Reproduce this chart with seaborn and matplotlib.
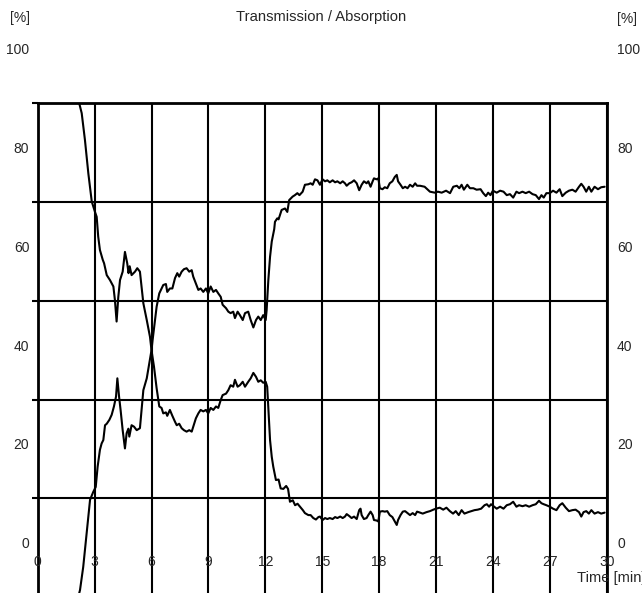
import matplotlib
matplotlib.use("Agg")
import matplotlib.pyplot as plt
import seaborn as sns
import pandas as pd

# ---- data (minutes, percent) ----
t_a = [0.0, 1.0, 2.0, 2.19, 2.32, 2.49, 2.67, 2.85, 3.02, 3.11, 3.19, 3.28, 3.43, 3.50, 3.64, 3.81, 3.99,
       4.07, 4.16, 4.25, 4.34, 4.48, 4.60, 4.72, 4.79, 4.85, 4.95, 5.13, 5.25, 5.39, 5.57, 5.75, 5.92,
       6.0, 6.13, 6.27, 6.41, 6.53, 6.62, 6.76, 6.83, 6.97, 7.10, 7.24, 7.33, 7.46, 7.59, 7.71, 7.85,
       7.99, 8.12, 8.20, 8.34, 8.47, 8.59, 8.73, 8.87, 8.99, 9.12, 9.26, 9.40, 9.52, 9.65, 9.75, 9.93,
       10.05, 10.17, 10.31, 10.40, 10.54, 10.66, 10.81, 10.93, 11.10, 11.23, 11.37, 11.51, 11.63, 11.76,
       11.89, 12.02, 12.10, 12.21, 12.25, 12.34, 12.42, 12.56, 12.70, 12.81, 12.95, 13.10, 13.20, 13.30,
       13.45, 13.57, 13.70, 13.83, 13.98, 14.09, 14.27, 14.39, 14.53, 14.67, 14.80, 14.88, 15.02, 15.15,
       15.27, 15.40, 15.55, 15.68, 15.80, 15.95, 16.08, 16.20, 16.29, 16.43, 16.55, 16.68, 16.82, 16.95,
       17.02, 17.08, 17.20, 17.34, 17.43, 17.55, 17.66, 17.73, 17.87, 17.96, 18.04, 18.18, 18.30, 18.43,
       18.56, 18.70, 18.83, 18.93, 19.00, 19.13, 19.25, 19.37, 19.50, 19.63, 19.77, 19.90, 20.00, 20.16,
       20.30, 20.50, 20.68, 20.86, 21.00, 21.20, 21.38, 21.55, 21.73, 21.90, 22.04, 22.20, 22.35, 22.50,
       22.70, 22.86, 23.03, 23.20, 23.38, 23.56, 23.68, 23.80, 23.90, 24.03, 24.20, 24.38, 24.56, 24.73,
       24.90, 25.07, 25.24, 25.38, 25.56, 25.73, 25.91, 26.09, 26.26, 26.43, 26.56, 26.68, 26.82, 27.00,
       27.17, 27.35, 27.52, 27.66, 27.84, 28.01, 28.19, 28.36, 28.54, 28.66, 28.78, 28.92, 29.06, 29.19,
       29.36, 29.54, 29.71, 29.89]
v_a = [96, 96, 94, 90.0, 88.0, 82.6, 75.8, 70.1, 68.0, 67.0, 63.0, 60.3, 58.3, 57.6, 55.2, 54.2, 52.9,
       50.2, 45.8, 50.8, 54.2, 55.9, 59.9, 57.6, 55.6, 57.0, 55.2, 55.9, 56.6, 55.9, 49.5, 46.1, 42.7,
       40.0, 36.7, 32.3, 28.6, 28.3, 27.2, 27.4, 26.7, 27.9, 26.7, 25.5, 24.8, 25.1, 24.2, 23.8, 23.5,
       23.8, 23.5, 24.5, 26.2, 27.2, 27.9, 27.6, 27.9, 27.2, 28.3, 27.9, 28.6, 28.3, 29.9, 30.9, 31.2,
       31.9, 32.9, 32.6, 34.0, 32.6, 32.9, 33.6, 32.6, 33.6, 34.3, 35.4, 34.6, 33.6, 33.9,
       33.4, 33.6, 32.6, 24.5, 21.8, 18.4, 16.4, 13.7, 13.8, 12.0, 11.9, 12.5, 11.9, 9.3,
       9.6, 8.6, 8.9, 8.3, 7.6, 7.0, 6.6, 6.6, 6.0, 5.7, 6.2, 6.3, 5.6, 6.0,
       5.8, 6.0, 5.8, 6.2, 6.0, 6.3, 6.0, 6.3, 6.8, 6.4, 6.0, 6.3, 5.8, 7.6,
       7.9, 6.6, 5.8, 6.0, 6.6, 7.3, 6.6, 5.6, 5.5, 5.3, 7.3, 7.4, 7.3, 7.4,
       6.6, 6.2, 5.3, 4.6, 5.6, 6.6, 7.3, 7.4, 7.0, 6.6, 7.0, 6.6, 7.3, 7.1,
       6.9, 7.2, 7.4, 7.7, 7.9, 8.1, 7.7, 8.1, 7.4, 6.9, 7.4, 6.6, 7.6, 6.9,
       7.2, 7.4, 7.6, 7.7, 7.9, 8.6, 8.8, 8.3, 8.8, 8.4, 7.9, 8.3, 7.9, 8.6,
       8.8, 9.3, 8.3, 8.6, 8.4, 8.6, 8.3, 8.6, 8.8, 9.5, 9.0, 8.8, 8.6, 8.3,
       7.9, 7.6, 8.6, 9.0, 8.1, 7.4, 7.6, 7.7, 7.2, 6.3, 7.2, 7.4, 6.9, 7.6,
       6.9, 7.2, 6.9, 7.1]

t_b = [0.0, 2.0, 2.23, 2.40, 2.58, 2.76, 2.93, 3.06, 3.16, 3.28, 3.37, 3.46, 3.55, 3.64, 3.78, 3.90,
       4.02, 4.13, 4.20, 4.29, 4.37, 4.48, 4.60, 4.69, 4.78, 4.83, 4.95, 5.08, 5.22, 5.39, 5.57, 5.75,
       5.88, 6.0, 6.06, 6.27, 6.41, 6.53, 6.62, 6.76, 6.83, 6.97, 7.10, 7.24, 7.36, 7.46, 7.59, 7.71,
       7.85, 7.99, 8.12, 8.20, 8.34, 8.47, 8.59, 8.73, 8.87, 8.99, 9.12, 9.26, 9.40, 9.52, 9.65, 9.75,
       9.93, 10.05, 10.17, 10.31, 10.40, 10.54, 10.66, 10.81, 10.93, 11.10, 11.23, 11.37, 11.51, 11.63,
       11.76, 11.89, 12.02, 12.07, 12.16, 12.25, 12.34, 12.47, 12.51, 12.63, 12.70, 12.86, 13.04, 13.16,
       13.26, 13.44, 13.56, 13.69, 13.80, 13.97, 14.09, 14.27, 14.39, 14.50, 14.62, 14.75, 14.88, 15.02,
       15.15, 15.27, 15.40, 15.55, 15.68, 15.80, 15.95, 16.08, 16.20, 16.29, 16.43, 16.55, 16.68, 16.82,
       16.95, 17.08, 17.20, 17.34, 17.43, 17.55, 17.66, 17.73, 17.87, 17.96, 18.04, 18.18, 18.30, 18.43,
       18.56, 18.70, 18.83, 18.93, 19.00, 19.13, 19.25, 19.37, 19.50, 19.63, 19.77, 19.90, 20.00, 20.16,
       20.40, 20.68, 20.94, 21.10, 21.30, 21.53, 21.74, 21.91, 22.10, 22.23, 22.35, 22.47, 22.65, 22.79,
       22.97, 23.14, 23.35, 23.49, 23.63, 23.75, 23.87, 24.00, 24.20, 24.38, 24.56, 24.73, 24.90, 25.07,
       25.24, 25.38, 25.56, 25.73, 25.91, 26.09, 26.26, 26.43, 26.56, 26.68, 26.82, 27.00, 27.17, 27.35,
       27.52, 27.66, 27.84, 28.01, 28.19, 28.36, 28.54, 28.66, 28.78, 28.92, 29.06, 29.19, 29.36, 29.54,
       29.71, 29.89]
v_b = [-14, -12, -8.6, -3.9, 2.9, 9.7, 11.3, 12.3, 16.4, 19.8, 21.1, 21.8, 24.8, 25.1, 25.9, 26.9,
       28.6, 30.6, 34.3, 30.6, 27.9, 23.8, 20.1, 23.2, 24.1, 22.5, 24.8, 24.5, 23.8, 24.2, 31.9, 34.3,
       37.3, 40.0, 42.1, 48.8, 51.5, 52.5, 53.2, 53.4, 51.8, 52.5, 52.5, 54.6, 55.6, 54.9, 55.9, 56.4,
       56.6, 55.9, 56.2, 54.9, 53.5, 52.2, 52.5, 51.8, 52.5, 51.5, 52.9, 51.8, 52.2, 51.5, 50.8, 49.2,
       48.5, 47.8, 47.5, 47.8, 46.5, 47.8, 47.1, 46.1, 47.5, 47.8, 46.1, 44.6, 46.1, 46.8,
       46.1, 47.1, 46.1, 48.1, 54.2, 58.9, 62.0, 64.5, 66.0, 66.7, 66.5, 68.4, 68.7, 68.0,
       70.4, 71.1, 71.4, 71.8, 71.4, 72.1, 73.5, 73.6, 73.8, 73.5, 74.6, 74.4, 73.5, 74.6,
       74.2, 74.4, 74.0, 74.4, 74.0, 74.2, 73.8, 74.2, 73.8, 73.3, 73.8, 74.0, 74.4, 73.8,
       72.4, 73.5, 74.2, 73.8, 74.2, 73.1, 74.2, 74.8, 74.6, 74.8, 72.8, 72.6, 73.0, 72.8,
       73.8, 74.2, 75.1, 75.5, 74.2, 73.5, 72.8, 73.1, 72.8, 73.5, 73.1, 73.8, 73.3, 73.3,
       73.1, 72.1, 71.9, 72.1, 71.9, 72.3, 71.8, 73.1, 73.3, 72.8, 73.5, 72.5, 73.5, 72.8,
       72.8, 72.5, 72.6, 71.8, 71.2, 71.9, 71.4, 72.3, 71.9, 72.3, 72.1, 71.4, 71.6, 70.9,
       72.1, 71.8, 72.1, 71.8, 72.1, 71.6, 71.4, 70.6, 71.4, 70.9, 71.8, 71.8, 72.3, 71.9,
       72.6, 71.2, 71.9, 72.3, 72.5, 72.1, 73.1, 73.7, 73.1, 72.1, 73.1, 72.1, 73.1, 72.6,
       73.0, 73.1]

x_ticks = [0, 3, 6, 9, 12, 15, 18, 21, 24, 27, 30]
y_labels = [0, 20, 40, 60, 80, 100]
y_grid = [10, 30, 50, 70, 90]
title = "Transmission / Absorption"
unit = "[%]"
x_title = "Time [min]"

df = pd.concat([
    pd.DataFrame({"t": t_a, "v": v_a, "s": "A"}),
    pd.DataFrame({"t": t_b, "v": v_b, "s": "B"}),
])

sns.set_style("white")
plt.rcParams["font.family"] = ["Liberation Sans", "DejaVu Sans"]

W, H = 642, 593
fig = plt.figure(figsize=(W / 100, H / 100), dpi=100)
ax_l, ax_r, ax_top = 37.7, 606.7, 103.3
ax = fig.add_axes([ax_l / W, 0, (ax_r - ax_l) / W, (H - ax_top) / H])

sns.lineplot(data=df, x="t", y="v", units="s", estimator=None, sort=False,
             color="black", lw=1.5, ax=ax, legend=False, zorder=3)

ax.set_xlim(0, 30)
ax.set_ylim(-9.18, 90)
ax.set_xticks(x_ticks)
ax.set_yticks(y_grid)
ax.grid(True, color="black", lw=1.5)
ax.set_axisbelow(True)
ax.tick_params(axis="x", length=0, labelbottom=False)
ax.tick_params(axis="y", left=True, length=4, width=1.5, direction="out", color="black",
               labelleft=False)
ax.set_xlabel("")
ax.set_ylabel("")
for side in ["top", "left", "right"]:
    ax.spines[side].set_visible(True)
    ax.spines[side].set_color("black")
    ax.spines[side].set_linewidth(2.0)
ax.spines["bottom"].set_visible(False)

fs = 10
axw = ax_r - ax_l
ytr = ax.get_yaxis_transform()
for v in y_labels:
    ax.text((29.3 - ax_l) / axw, v + 0.7, str(v), transform=ytr, ha="right", va="center",
            fontsize=fs)
    ax.text((617 - ax_l) / axw, v + 0.7, str(v), transform=ytr, ha="left", va="center",
            fontsize=fs)
for t in x_ticks:
    ax.text(t, -2.84, str(t), ha="center", va="center", fontsize=fs)

ax.text((20 - ax_l) / axw, 107.3, unit, transform=ytr, ha="center", va="center", fontsize=fs)
ax.text((626.7 - ax_l) / axw, 107.1, unit, transform=ytr, ha="center", va="center", fontsize=fs)
ax.text((577.3 - ax_l) / axw, -6.14, x_title, transform=ytr, ha="left", va="center", fontsize=10.6)
fig.text(321 / W, 1 - 17 / H, title, ha="center", va="center", fontsize=10.6)

fig.savefig("out.png", dpi=100)
